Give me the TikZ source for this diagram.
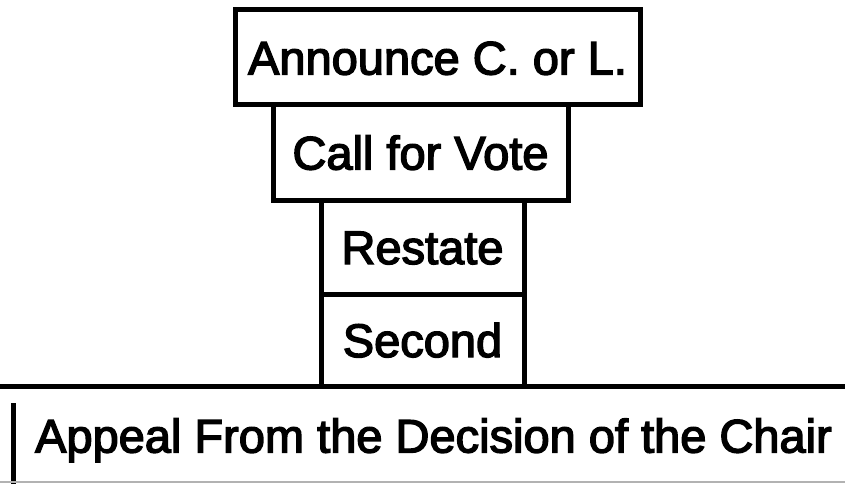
\documentclass[tikz,border=0pt]{standalone}
\usepackage{fontspec}
\setmainfont{Liberation Sans}
\newfontfamily\scanfont{Liberation Sans}[FakeBold=3]
\usetikzlibrary{calc}

\begin{document}
\begin{tikzpicture}[x=1pt,y=-1pt,
    box/.style={draw,line width=5pt,inner sep=0pt,minimum height=95pt,
        text height=34pt,text depth=0pt,font=\scanfont\fontsize{47pt}{50pt}\selectfont},
    rule/.style={line width=5pt}]
    \useasboundingbox (0,0) rectangle (845,484);

    \node[box,minimum width=405pt] (AN) at (437.5,	57.5) {Announce C. or L.};
    \node[box,minimum width=295pt] (CV) at (420.5,	152.5) {Call for Vote};
    \node[box,minimum width=203pt,minimum height=94pt] (RS) at (422.5,	247) {Restate};
    \node[box,minimum width=203pt,minimum height=92pt] (SC) at (422.5,	340) {Second};

    \node[inner sep=0pt,text height=34pt,text depth=0pt,
        font=\scanfont\fontsize{47pt}{50pt}\selectfont] (AP) at (433.5,	435.5)
        {Appeal From the Decision of the Chair};

    \coordinate (TL) at (0,	386);
    \coordinate (TR) at (845,	386);
    \coordinate (LT) at (13,	403);
    \coordinate (LB) at (13,	484);
    \coordinate (BL) at (0,	482);
    \coordinate (BR) at (845,	482);
    \draw[rule] (TL) -- (TR);
    \draw[rule] (LT) -- (LB);
    \draw[line width=2pt,gray!60] (BL) -- (BR);
\end{tikzpicture}
\end{document}
